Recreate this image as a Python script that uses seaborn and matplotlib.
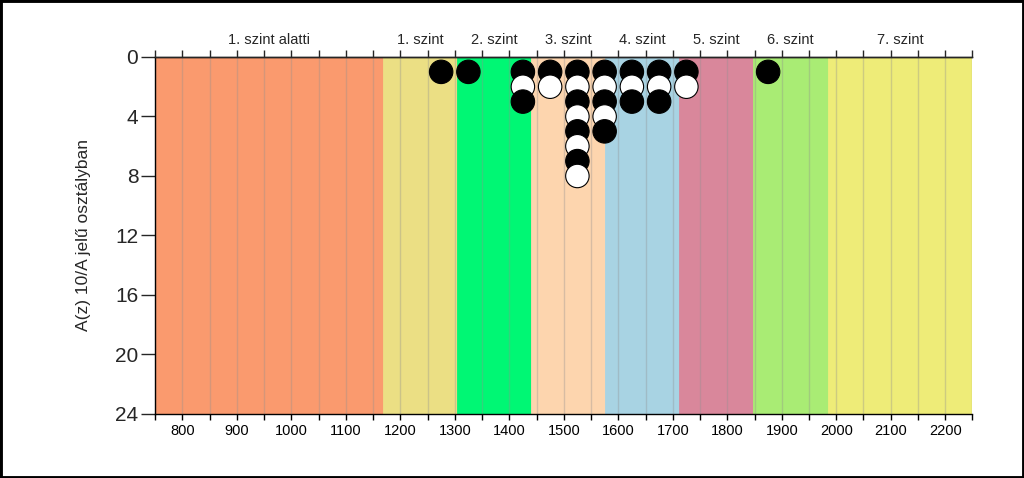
import numpy as np
import pandas as pd
import matplotlib
matplotlib.use('Agg')
import matplotlib.pyplot as plt
from matplotlib.patches import Rectangle
from matplotlib.ticker import MultipleLocator, FixedLocator
import seaborn as sns

# adatok
pontszamok = [1275, 1325, 1425, 1475, 1525, 1575, 1625, 1675, 1725, 1875]
letszam = [1, 1, 3, 2, 8, 5, 3, 3, 2, 1]

szint_nevek = ['1. szint alatti', '1. szint', '2. szint', '3. szint',
               '4. szint', '5. szint', '6. szint', '7. szint']
szint_hatarok = [750, 1168, 1304, 1440, 1576, 1712, 1848, 1984, 2250]
szint_szinek = ['#fa9a6e', '#ebdf84', '#00f774', '#fdd5ae',
                '#a8d3e3', '#d9879b', '#a9ec74', '#eeec78']

y_tickek = [0, 4, 8, 12, 16, 20, 24]

# pontok kibontasa oszlopokra
sorok = []
for x, n in zip(pontszamok, letszam):
    for k in range(1, n + 1):
        sorok.append((x, k, 'fekete' if k % 2 == 1 else 'feher'))
df = pd.DataFrame(sorok, columns=['pont', 'db', 'szin'])

sns.set_style('ticks')
plt.rcParams['font.family'] = ['Liberation Sans', 'DejaVu Sans']

fig = plt.figure(figsize=(10.24, 4.78), dpi=100)
ax = fig.add_axes([0.1514, 0.1339, 0.7983, 0.7469])

for i in range(len(szint_nevek)):
    ax.axvspan(szint_hatarok[i], szint_hatarok[i + 1],
               facecolor=szint_szinek[i], edgecolor=szint_szinek[i],
               lw=0.6, zorder=1)

sns.scatterplot(data=df, x='pont', y='db', hue='szin',
                palette={'fekete': 'black', 'feher': 'white'},
                s=285, edgecolor='black', linewidth=0.8, legend=False,
                zorder=4, ax=ax)

ax.set_xlim(750, 2250)
ax.set_ylim(24, 0)
ax.xaxis.set_major_locator(MultipleLocator(100))
ax.xaxis.set_minor_locator(MultipleLocator(50))
ax.set_yticks(y_tickek)
ax.set_axisbelow(False)
ax.grid(which='both', axis='x', color='#909090', alpha=0.35, lw=1)
ax.grid(False, axis='y')

ax.tick_params(axis='x', which='both', direction='out', length=4, width=1,
               labelsize=10.5, pad=3, colors='black')
ax.tick_params(axis='y', direction='out', length=10, width=1,
               labelsize=15, pad=2)
ax.set_xticklabels([str(int(t)) for t in ax.get_xticks()])

ax.set_xlabel('')
ax.set_ylabel('A(z) 10/A jelű osztályban', fontsize=12.5)
ax.yaxis.set_label_coords(-0.078, 0.5)

for sp in ['left', 'bottom', 'top']:
    ax.spines[sp].set_color('black')
    ax.spines[sp].set_linewidth(1)
    ax.spines[sp].set_zorder(5)
ax.spines['right'].set_visible(False)

# felso tengely: szintek nevei
ax2 = ax.twiny()
ax2.set_xlim(ax.get_xlim())
kozepek = [(szint_hatarok[i] + szint_hatarok[i + 1]) / 2
           for i in range(len(szint_nevek))]
ax2.xaxis.set_major_locator(FixedLocator(kozepek))
ax2.set_xticklabels(szint_nevek)
ax2.xaxis.set_minor_locator(MultipleLocator(50))
ax2.tick_params(axis='x', which='major', length=0, labelsize=10.5, pad=7)
ax2.tick_params(axis='x', which='minor', direction='out', length=5, width=1)
for sp in ['left', 'right', 'bottom']:
    ax2.spines[sp].set_visible(False)
ax2.spines['top'].set_linewidth(1)

fig.patches.append(Rectangle((0, 0), 1, 1, transform=fig.transFigure,
                             fill=False, edgecolor='black', lw=3.5))

fig.savefig('out.png', dpi=100)
